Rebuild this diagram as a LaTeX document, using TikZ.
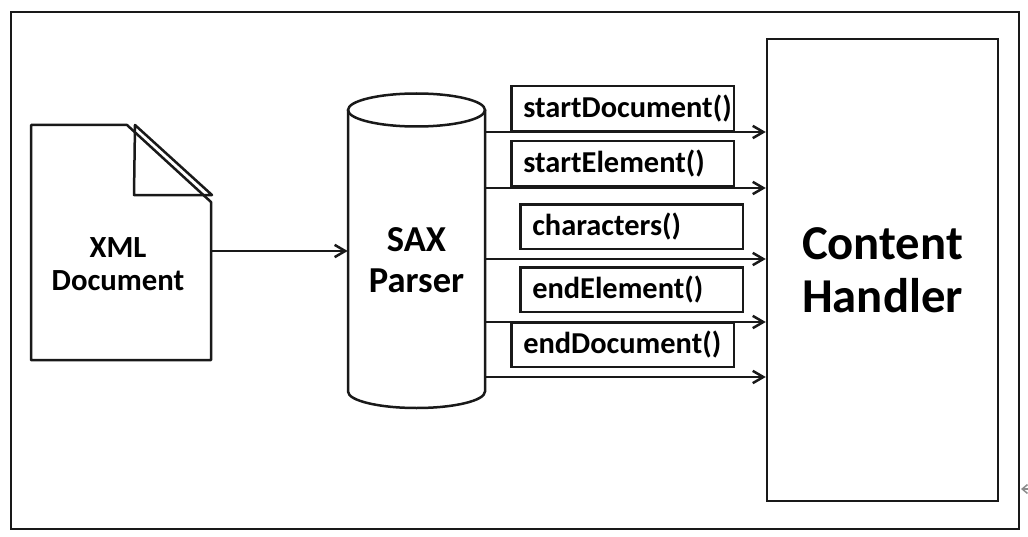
\documentclass[tikz,border=0pt]{standalone}
\usepackage{fontspec}
\setmainfont{Carlito}
\usetikzlibrary{arrows.meta,positioning,shapes}

\tikzset{
  line/.style={line width=0.05cm, black!90},
  flow/.style={line, -{Straight Barb[length=6pt,width=7pt]}},
  methodbox/.style={line, draw, anchor=north west, minimum height=0.9cm, text width=4.46cm, inner xsep=0pt, align=left, text=black, font=\bfseries\fontsize{17.3}{20}\selectfont, execute at begin node=\hspace*{0.24cm}},
  labeltext/.style={align=center, text=black, font=\bfseries}
}

\begin{document}
\begin{tikzpicture}[x=0.02cm, y=-0.02cm]
\useasboundingbox (0, 0) rectangle (1028, 537);

\node[line, draw, minimum width=20.16cm, minimum height=10.34cm] (frame) at (515, 270.5) {};

% document with folded corner
\draw[line, line join=round] (127, 125) -- (31, 125) -- (31, 360) -- (211, 360) -- (211, 202) -- cycle;
\draw[line, line join=round] (135, 125) -- (134, 195) -- (212, 195) -- cycle;
\node[labeltext, font=\bfseries\fontsize{17.5}{18.5}\selectfont] (xmldoc) at (118, 264) {XML\\Document};

% parser drum
\draw[line] (416.5, 110) ellipse [x radius=68.5, y radius=16.5];
\draw[line] (348, 110) -- (348, 391.5) arc [start angle=180, end angle=0, x radius=68.5, y radius=16.5] -- (485, 110);
\node[labeltext, minimum width=2.74cm, font=\bfseries\fontsize{20.8}{23}\selectfont] (parser) at (416.5, 260) {SAX\\Parser};

\node[line, draw, minimum width=4.62cm, minimum height=9.24cm, text=black, align=center, font=\bfseries\fontsize{27.7}{30}\selectfont] (handler) at (882.5, 270) {Content\\Handler};

\coordinate (docout) at (211, 251);
\draw[flow] (docout) -- (docout -| parser.west);

% method calls, left to right order of the boxes
\foreach \name/\xleft/\ytop/\label in {a/510/85/startDocument(), b/510/140/startElement(), c/519/203/characters(), d/519/266/endElement(), e/510/321/endDocument()} {
  \node[methodbox] (\name) at (\xleft, \ytop) {\label};
}

\foreach \y in {132, 188, 259, 322, 377} {
  \coordinate (call\y) at (parser.east |- 0, \y);
  \draw[flow] (call\y) -- (call\y -| handler.west);
}

\coordinate (markend) at (1021, 489);
\coordinate (markstart) at (1028, 489);
\draw[black!45, line width=0.03cm, -{Straight Barb[length=3pt,width=5pt]}] (markstart) -- (markend);
\end{tikzpicture}
\end{document}
